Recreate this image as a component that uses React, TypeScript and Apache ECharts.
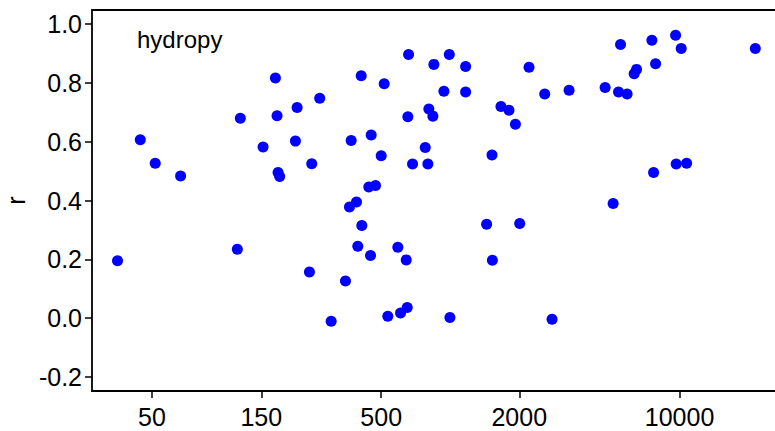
import React, { useEffect, useRef } from "react";
import * as echarts from "echarts";

const panelLabel = "hydropy";
const yAxisTitle = "r";
const xTickValues = [50, 150, 500, 2000, 10000];
const yTickValues = [-0.2, 0, 0.2, 0.4, 0.6, 0.8, 1.0];

// sample size (x, log scale) and correlation r (y)
const sizeValues = [
  35.4, 44.5, 51.7, 66.7, 117.9, 121.5, 152.7, 172.8, 175.7, 177.5,
  180.4, 211.3, 214.9, 248.9, 243.2, 269.7, 302.5, 349.2, 363.6, 390.1,
  369.8, 409, 411.5, 395.3, 441.5, 472.3, 449.1, 452.2, 500, 515.3,
  534.3, 590.9, 607.2, 649.4, 642.9, 653.5, 658.1, 684.9, 778.2, 798.9,
  806.9, 840.1, 848.6, 938.5, 990.6, 996.8, 1167, 1167, 1441, 1521,
  1527, 1664, 1804, 1924, 2009, 2206, 2583, 2780, 3298, 4736,
  5133, 5419, 5530, 5907, 6340, 6494, 7575, 7706, 7862, 9612,
  9670, 10169, 10737, 21400,
];
const rValues = [
  0.195, 0.607, 0.527, 0.483, 0.234, 0.68, 0.582, 0.817, 0.688, 0.495,
  0.482, 0.602, 0.716, 0.525, 0.157, 0.748, -0.011, 0.126, 0.378, 0.395,
  0.604, 0.824, 0.315, 0.244, 0.446, 0.451, 0.213, 0.623, 0.552, 0.797,
  0.006, 0.241, 0.017, 0.036, 0.198, 0.685, 0.897, 0.524, 0.58, 0.524,
  0.711, 0.687, 0.863, 0.772, 0.897, 0.002, 0.856, 0.769, 0.319, 0.555,
  0.197, 0.72, 0.707, 0.659, 0.322, 0.853, 0.762, -0.004, 0.775, 0.784,
  0.39, 0.769, 0.931, 0.762, 0.831, 0.846, 0.945, 0.495, 0.865, 0.962,
  0.524, 0.917, 0.527, 0.917,
];

const FONT = "Liberation Sans, Arial, sans-serif";

export default function App() {
  const ref = useRef<HTMLDivElement>(null);
  useEffect(() => {
    if (!ref.current) return;
    const chart = echarts.init(ref.current, null, { renderer: "svg" });
    const points = sizeValues.map((x, i) => [x, rValues[i]]);
    chart.setOption({
      animation: false,
      backgroundColor: "#ffffff",
      grid: {
        left: 92,
        top: 10,
        right: -6,
        bottom: 40,
        containLabel: false,
        outerBoundsMode: "none",
        show: true,
        borderColor: "#000",
        borderWidth: 1.8,
        backgroundColor: "transparent",
      },
      xAxis: {
        type: "log",
        logBase: 10,
        min: 27.4,
        max: 27700,
        axisLine: { show: false, onZero: false },
        splitLine: { show: false },
        minorTick: { show: false },
        axisTick: {
          show: true,
          inside: false,
          length: 7,
          customValues: xTickValues,
          lineStyle: { color: "#000", width: 1.5 },
        },
        axisLabel: {
          customValues: xTickValues,
          margin: 13,
          color: "#000",
          fontSize: 25,
          fontFamily: FONT,
          formatter: (v: number) => String(Math.round(v)),
        },
      },
      yAxis: {
        type: "value",
        min: -0.248,
        max: 1.048,
        name: yAxisTitle,
        nameLocation: "middle",
        nameGap: 59,
        nameRotate: 90,
        nameTextStyle: { color: "#000", fontSize: 25, fontFamily: FONT },
        axisLine: { show: false, onZero: false },
        splitLine: { show: false },
        axisTick: {
          show: true,
          inside: false,
          length: 7,
          customValues: yTickValues,
          lineStyle: { color: "#000", width: 1.5 },
        },
        axisLabel: {
          customValues: yTickValues,
          margin: 10,
          color: "#000",
          fontSize: 25,
          fontFamily: FONT,
          formatter: (v: number) => v.toFixed(1),
        },
      },
      graphic: [
        {
          type: "text",
          left: 137,
          top: 27,
          style: {
            text: panelLabel,
            fontSize: 24,
            fontFamily: FONT,
            fill: "#000",
          },
        },
      ],
      series: [
        {
          type: "scatter",
          data: points,
          symbol: "circle",
          symbolSize: 11,
          itemStyle: { color: "#0000ff", opacity: 1 },
        },
      ],
    });
    return () => chart.dispose();
  }, []);
  return (
    <div
      ref={ref}
      style={{ position: "fixed", left: 0, top: 0, width: 775, height: 431 }}
    />
  );
}
